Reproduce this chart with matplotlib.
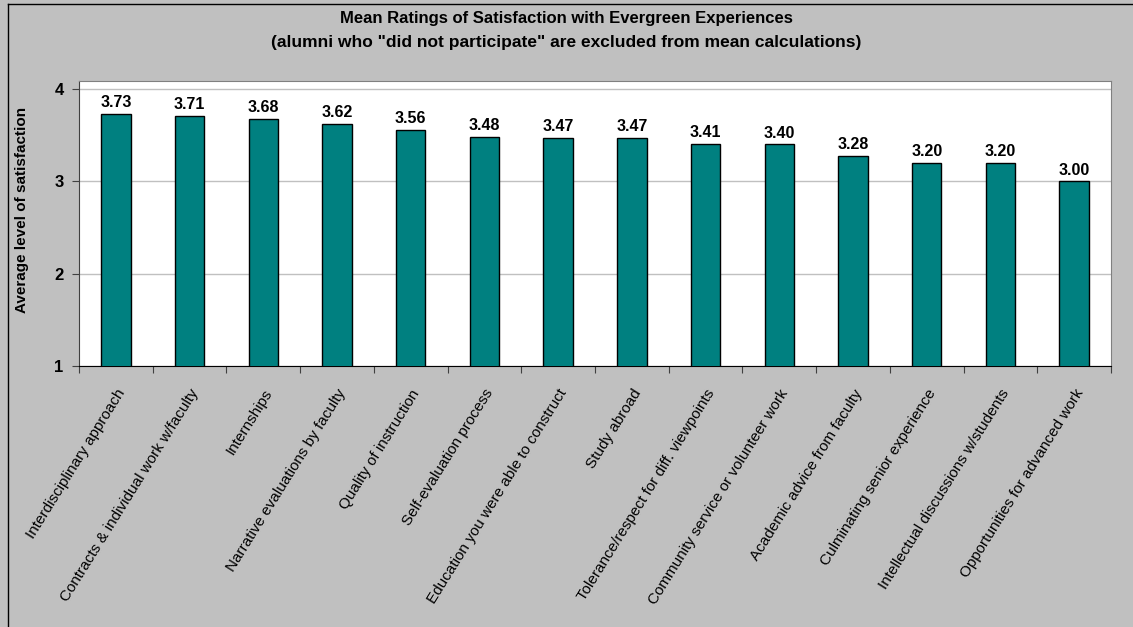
import matplotlib.pyplot as plt
import numpy as np
from matplotlib.lines import Line2D

categories = ["Interdisciplinary approach", "Contracts & individual work w/faculty",
              "Internships", "Narrative evaluations by faculty", "Quality of instruction",
              "Self-evaluation process", "Education you were able to construct",
              "Study abroad", "Tolerance/respect for diff. viewpoints",
              "Community service or volunteer work", "Academic advice from faculty",
              "Culminating senior experience", "Intellectual discussions w/students",
              "Opportunities for advanced work"]
means = [3.73, 3.71, 3.68, 3.62, 3.56, 3.48, 3.47, 3.47, 3.41, 3.40, 3.28, 3.20, 3.20, 3.00]
yticks = [1, 2, 3, 4]

plt.rcParams['font.family'] = ['Liberation Sans', 'DejaVu Sans']

fig = plt.figure(figsize=(11.33, 6.27), dpi=100, facecolor="#c0c0c0")
ax = fig.add_axes([79/1133, 1-366/627, 1032/1133, 285/627])
ax.set_facecolor("white")

x = np.arange(len(categories))
ax.bar(x, means, width=0.4, bottom=0, color="#008080", edgecolor="black", linewidth=1, zorder=3)
for xi, v in zip(x, means):
    ax.text(xi, v + 0.04, "%.2f" % v, ha="center", va="bottom", fontsize=11.5, fontweight="bold")

ax.set_xlim(-0.5, len(categories) - 0.5)
ax.set_ylim(1, 4.087)
ax.set_yticks(yticks)
ax.set_yticklabels([str(t) for t in yticks], fontsize=12, fontweight="bold")
ax.yaxis.grid(True, color="#c0c0c0", linewidth=1, zorder=0)
ax.tick_params(axis="y", direction="out", length=5, color="#404040", pad=6)

ax.set_xticks(np.arange(len(categories) + 1) - 0.5, minor=False)
ax.set_xticklabels([])
ax.set_xticks(x, minor=True)
ax.set_xticklabels(categories, minor=True, rotation=58, ha="right", rotation_mode="anchor", fontsize=11)
ax.tick_params(axis="x", which="major", direction="out", length=5, color="#404040")
ax.tick_params(axis="x", which="minor", length=0, pad=15)

for s in ["top", "right"]:
    ax.spines[s].set_color("#808080")
ax.spines["left"].set_color("#404040")
ax.spines["bottom"].set_color("black")

ax.set_ylabel("Average level of satisfaction", fontsize=11, fontweight="bold")
ax.yaxis.set_label_coords(-0.048, 0.547)

fig.text(0.5, 1-19/627, "Mean Ratings of Satisfaction with Evergreen Experiences",
         ha="center", va="center", fontsize=12, fontweight="bold")
fig.text(0.5, 1-42/627, "(alumni who \"did not participate\" are excluded from mean calculations)",
         ha="center", va="center", fontsize=12.5, fontweight="bold")

fig.add_artist(Line2D([8/1133, 1], [1-4/627, 1-4/627], color="black", linewidth=1))
fig.add_artist(Line2D([8/1133, 8/1133], [0, 1-4/627], color="black", linewidth=1))

fig.savefig("out.png", dpi=100, facecolor=fig.get_facecolor())
